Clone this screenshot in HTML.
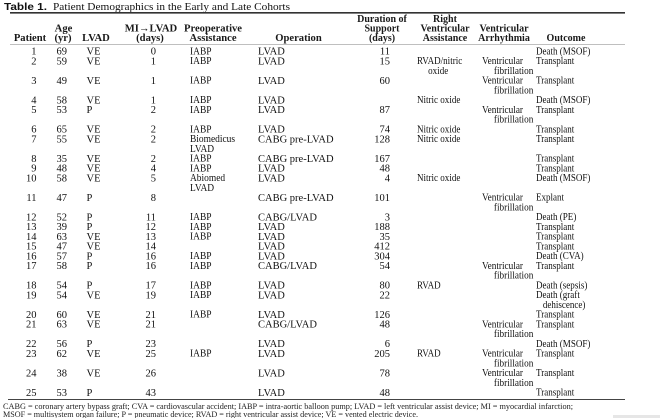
<!DOCTYPE html>
<html>
<head>
<meta charset="utf-8">
<style>
  html,body{margin:0;padding:0;background:#fff;}
  svg{display:block;}
  .t{font-family:"Liberation Serif",serif;font-size:10.5px;fill:#111;}
  .h{font-family:"Liberation Serif",serif;font-size:10.6px;font-weight:bold;fill:#1a1a1a;}
  .h2{font-family:"Liberation Serif",serif;font-size:10px;font-weight:bold;fill:#1a1a1a;}
  .e{text-anchor:end;}
  .m{text-anchor:middle;}
  .f{font-family:"Liberation Serif",serif;font-size:8.2px;fill:#222;}
</style>
</head>
<body>
<svg width="660" height="418" viewBox="0 0 660 418" xmlns="http://www.w3.org/2000/svg">
  <rect x="0" y="0" width="660" height="418" fill="#fff"/>
  <!-- title -->
  <text x="4" y="10" font-family="Liberation Sans, sans-serif" font-weight="bold" font-size="10.5" fill="#111" textLength="43" lengthAdjust="spacingAndGlyphs">Table 1.</text>
  <text x="53" y="10" class="t" font-size="11" textLength="237" lengthAdjust="spacingAndGlyphs">Patient Demographics in the Early and Late Cohorts</text>
  <!-- rules -->
  <line x1="10" y1="12.8" x2="625" y2="12.8" stroke="#333" stroke-width="1.6"/>
  <line x1="10" y1="44.5" x2="625" y2="44.5" stroke="#aaa" stroke-width="0.8"/>
  <line x1="8" y1="399.5" x2="625" y2="399.5" stroke="#444" stroke-width="1"/>

  <!-- headers -->
  <text class="h m" x="30" y="41">Patient</text>
  <text class="h m" x="63.5" y="31.5">Age</text>
  <text class="h m" x="63" y="41">(yr)</text>
  <text class="h m" x="96" y="41">LVAD</text>
  <text class="h m" x="151" y="31.5">MI→LVAD</text>
  <text class="h m" x="150" y="41">(days)</text>
  <text class="h m" x="213" y="31.5">Preoperative</text>
  <text class="h m" x="213" y="41">Assistance</text>
  <text class="h m" x="298.5" y="41">Operation</text>
  <text class="h2 m" x="382" y="22">Duration of</text>
  <text class="h2 m" x="382" y="31.5">Support</text>
  <text class="h2 m" x="382" y="41">(days)</text>
  <text class="h2 m" x="445" y="22">Right</text>
  <text class="h2 m" x="445" y="31.5">Ventricular</text>
  <text class="h2 m" x="445" y="41">Assistance</text>
  <text class="h2 m" x="504" y="31.5">Ventricular</text>
  <text class="h2 m" x="504" y="41">Arrhythmia</text>
  <text class="h2 m" x="566" y="41">Outcome</text>

  <!-- Patient column -->
  <g class="t e" transform="translate(36.5,0)">
    <text x="0" y="54.5">1</text><text x="0" y="64.25">2</text><text x="0" y="83.75">3</text><text x="0" y="103.25">4</text><text x="0" y="113">5</text>
    <text x="0" y="132.5">6</text><text x="0" y="142.25">7</text><text x="0" y="161.75">8</text><text x="0" y="171.5">9</text><text x="0" y="181.25">10</text>
    <text x="0" y="200.75">11</text><text x="0" y="220.25">12</text><text x="0" y="230">13</text><text x="0" y="239.75">14</text><text x="0" y="249.5">15</text>
    <text x="0" y="259.25">16</text><text x="0" y="269">17</text><text x="0" y="288.5">18</text><text x="0" y="298.25">19</text><text x="0" y="317.75">20</text>
    <text x="0" y="327.5">21</text><text x="0" y="347">22</text><text x="0" y="356.75">23</text><text x="0" y="376.25">24</text><text x="0" y="395.75">25</text>
  </g>
  <!-- Age column -->
  <g class="t" transform="translate(56.5,0)">
    <text x="0" y="54.5">69</text><text x="0" y="64.25">59</text><text x="0" y="83.75">49</text><text x="0" y="103.25">58</text><text x="0" y="113">53</text>
    <text x="0" y="132.5">65</text><text x="0" y="142.25">55</text><text x="0" y="161.75">35</text><text x="0" y="171.5">48</text><text x="0" y="181.25">58</text>
    <text x="0" y="200.75">47</text><text x="0" y="220.25">52</text><text x="0" y="230">39</text><text x="0" y="239.75">63</text><text x="0" y="249.5">47</text>
    <text x="0" y="259.25">57</text><text x="0" y="269">58</text><text x="0" y="288.5">54</text><text x="0" y="298.25">54</text><text x="0" y="317.75">60</text>
    <text x="0" y="327.5">63</text><text x="0" y="347">56</text><text x="0" y="356.75">62</text><text x="0" y="376.25">38</text><text x="0" y="395.75">53</text>
  </g>
  <!-- LVAD column -->
  <g class="t" transform="translate(86.5,0)">
    <text x="0" y="54.5">VE</text><text x="0" y="64.25">VE</text><text x="0" y="83.75">VE</text><text x="0" y="103.25">VE</text><text x="0" y="113">P</text>
    <text x="0" y="132.5">VE</text><text x="0" y="142.25">VE</text><text x="0" y="161.75">VE</text><text x="0" y="171.5">VE</text><text x="0" y="181.25">VE</text>
    <text x="0" y="200.75">P</text><text x="0" y="220.25">P</text><text x="0" y="230">P</text><text x="0" y="239.75">VE</text><text x="0" y="249.5">VE</text>
    <text x="0" y="259.25">P</text><text x="0" y="269">P</text><text x="0" y="288.5">P</text><text x="0" y="298.25">VE</text><text x="0" y="317.75">VE</text>
    <text x="0" y="327.5">VE</text><text x="0" y="347">P</text><text x="0" y="356.75">VE</text><text x="0" y="376.25">VE</text><text x="0" y="395.75">P</text>
  </g>
  <!-- MI->LVAD column -->
  <g class="t e" transform="translate(156,0)">
    <text x="0" y="54.5">0</text><text x="0" y="64.25">1</text><text x="0" y="83.75">1</text><text x="0" y="103.25">1</text><text x="0" y="113">2</text>
    <text x="0" y="132.5">2</text><text x="0" y="142.25">2</text><text x="0" y="161.75">2</text><text x="0" y="171.5">4</text><text x="0" y="181.25">5</text>
    <text x="0" y="200.75">8</text><text x="0" y="220.25">11</text><text x="0" y="230">12</text><text x="0" y="239.75">13</text><text x="0" y="249.5">14</text>
    <text x="0" y="259.25">16</text><text x="0" y="269">16</text><text x="0" y="288.5">17</text><text x="0" y="298.25">19</text><text x="0" y="317.75">21</text>
    <text x="0" y="327.5">21</text><text x="0" y="347">23</text><text x="0" y="356.75">25</text><text x="0" y="376.25">26</text><text x="0" y="395.75">43</text>
  </g>
  <!-- Preoperative column -->
  <g class="t" transform="translate(190,0) scale(0.9,1)">
    <text x="0" y="54.5">IABP</text><text x="0" y="64.25">IABP</text><text x="0" y="83.75">IABP</text><text x="0" y="103.25">IABP</text><text x="0" y="113">IABP</text>
    <text x="0" y="132.5">IABP</text><text x="0" y="142.25">Biomedicus</text><text x="0" y="152">LVAD</text><text x="0" y="161.75">IABP</text><text x="0" y="171.5">IABP</text>
    <text x="0" y="181.25">Abiomed</text><text x="0" y="191">LVAD</text>
    <text x="0" y="220.25">IABP</text><text x="0" y="230">IABP</text><text x="0" y="239.75">IABP</text>
    <text x="0" y="259.25">IABP</text><text x="0" y="269">IABP</text><text x="0" y="288.5">IABP</text><text x="0" y="298.25">IABP</text><text x="0" y="317.75">IABP</text>
    <text x="0" y="356.75">IABP</text>
  </g>
  <!-- Operation column -->
  <g class="t" transform="translate(258,0)">
    <text x="0" y="54.5">LVAD</text><text x="0" y="64.25">LVAD</text><text x="0" y="83.75">LVAD</text><text x="0" y="103.25">LVAD</text><text x="0" y="113">LVAD</text>
    <text x="0" y="132.5">LVAD</text><text x="0" y="142.25">CABG pre-LVAD</text><text x="0" y="161.75">CABG pre-LVAD</text><text x="0" y="171.5">LVAD</text><text x="0" y="181.25">LVAD</text>
    <text x="0" y="200.75">CABG pre-LVAD</text><text x="0" y="220.25">CABG/LVAD</text><text x="0" y="230">LVAD</text><text x="0" y="239.75">LVAD</text><text x="0" y="249.5">LVAD</text>
    <text x="0" y="259.25">LVAD</text><text x="0" y="269">CABG/LVAD</text><text x="0" y="288.5">LVAD</text><text x="0" y="298.25">LVAD</text><text x="0" y="317.75">LVAD</text>
    <text x="0" y="327.5">CABG/LVAD</text><text x="0" y="347">LVAD</text><text x="0" y="356.75">LVAD</text><text x="0" y="376.25">LVAD</text><text x="0" y="395.75">LVAD</text>
  </g>
  <!-- Duration column -->
  <g class="t e" transform="translate(390,0)">
    <text x="0" y="54.5">11</text><text x="0" y="64.25">15</text><text x="0" y="83.75">60</text><text x="0" y="113">87</text>
    <text x="0" y="132.5">74</text><text x="0" y="142.25">128</text><text x="0" y="161.75">167</text><text x="0" y="171.5">48</text><text x="0" y="181.25">4</text>
    <text x="0" y="200.75">101</text><text x="0" y="220.25">3</text><text x="0" y="230">188</text><text x="0" y="239.75">35</text><text x="0" y="249.5">412</text>
    <text x="0" y="259.25">304</text><text x="0" y="269">54</text><text x="0" y="288.5">80</text><text x="0" y="298.25">22</text><text x="0" y="317.75">126</text>
    <text x="0" y="327.5">48</text><text x="0" y="347">6</text><text x="0" y="356.75">205</text><text x="0" y="376.25">78</text><text x="0" y="395.75">48</text>
  </g>
  <!-- Right ventricular assistance column -->
  <g class="t" transform="translate(417,0) scale(0.86,1)">
    <text x="0" y="64.25">RVAD/nitric</text><text x="13" y="74">oxide</text>
    <text x="0" y="103.25">Nitric oxide</text>
    <text x="0" y="132.5">Nitric oxide</text>
    <text x="0" y="142.25">Nitric oxide</text>
    <text x="0" y="181.25">Nitric oxide</text>
    <text x="0" y="288.5">RVAD</text>
    <text x="0" y="356.75">RVAD</text>
  </g>
  <!-- Ventricular arrhythmia column -->
  <g class="t" transform="translate(482,0) scale(0.88,1)">
    <text x="0" y="64.25">Ventricular</text><text x="13.5" y="74">fibrillation</text>
    <text x="0" y="83.75">Ventricular</text><text x="13.5" y="93.5">fibrillation</text>
    <text x="0" y="113">Ventricular</text><text x="13.5" y="122.75">fibrillation</text>
    <text x="0" y="200.75">Ventricular</text><text x="13.5" y="210.5">fibrillation</text>
    <text x="0" y="269">Ventricular</text><text x="13.5" y="278.75">fibrillation</text>
    <text x="0" y="327.5">Ventricular</text><text x="13.5" y="337.25">fibrillation</text>
    <text x="0" y="356.75">Ventricular</text><text x="13.5" y="366.5">fibrillation</text>
    <text x="0" y="376.25">Ventricular</text><text x="13.5" y="386">fibrillation</text>
  </g>
  <!-- Outcome column -->
  <g class="t" transform="translate(536,0) scale(0.86,1)">
    <text x="0" y="54.5">Death (MSOF)</text><text x="0" y="64.25">Transplant</text><text x="0" y="83.75">Transplant</text><text x="0" y="103.25">Death (MSOF)</text><text x="0" y="113">Transplant</text>
    <text x="0" y="132.5">Transplant</text><text x="0" y="142.25">Transplant</text><text x="0" y="161.75">Transplant</text><text x="0" y="171.5">Transplant</text><text x="0" y="181.25">Death (MSOF)</text>
    <text x="0" y="200.75">Explant</text><text x="0" y="220.25">Death (PE)</text><text x="0" y="230">Transplant</text><text x="0" y="239.75">Transplant</text><text x="0" y="249.5">Transplant</text>
    <text x="0" y="259.25">Death (CVA)</text><text x="0" y="269">Transplant</text><text x="0" y="288.5">Death (sepsis)</text><text x="0" y="298.25">Death (graft</text><text x="8" y="308">dehiscence)</text>
    <text x="0" y="317.75">Transplant</text><text x="0" y="327.5">Transplant</text><text x="0" y="347">Death (MSOF)</text><text x="0" y="356.75">Transplant</text><text x="0" y="376.25">Transplant</text><text x="0" y="395.75">Transplant</text>
  </g>

  <!-- footnotes -->
  <text class="f" x="3" y="409" textLength="570" lengthAdjust="spacingAndGlyphs">CABG = coronary artery bypass graft; CVA = cardiovascular accident; IABP = intra-aortic balloon pump; LVAD = left ventricular assist device; MI = myocardial infarction;</text>
  <text class="f" x="3" y="417" textLength="415" lengthAdjust="spacingAndGlyphs">MSOF = multisystem organ failure; P = pneumatic device; RVAD = right ventricular assist device; VE = vented electric device.</text>
  <rect x="613" y="415" width="47" height="3" fill="#e6e6e6"/>
</svg>
</body>
</html>
